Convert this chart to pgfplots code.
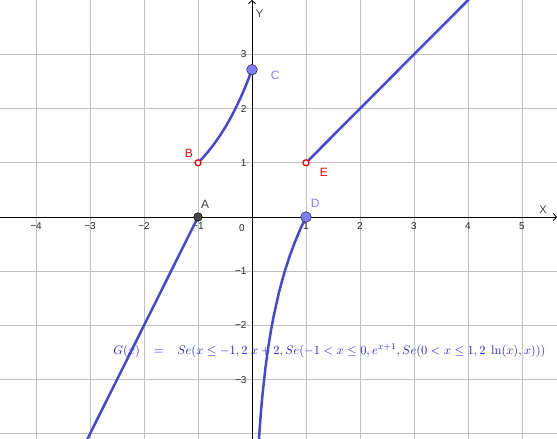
\documentclass[border=0pt]{standalone}
\usepackage{graphicx}
\usepackage{pgfplots}
\pgfplotsset{compat=1.18}
\usepackage{fontspec}
\newfontfamily\arial{Liberation Sans}
\usetikzlibrary{arrows.meta}
\definecolor{fblue}{RGB}{70,70,220}
\definecolor{tblue}{RGB}{35,35,225}
\definecolor{pblue}{RGB}{125,125,255}
\definecolor{agray}{RGB}{70,70,70}
\definecolor{gridgray}{RGB}{192,192,192}
\begin{document}
\begin{tikzpicture}
\begin{axis}[
  scale only axis, width=557pt, height=439pt,
  xmin=-4.667, xmax=5.648, ymin=-4.096, ymax=4.004,
  axis lines=middle,
  axis line style={line width=0.9pt, black, -{Straight Barb[length=3pt,width=7pt]}},
  xtick={-4,-3,-2,-1,1,2,3,4,5},
  xticklabels={−4,−3,−2,−1,1,2,3,4,5},
  ytick={-4,-3,-2,-1,1,2,3},
  yticklabels={,−3,−2,−1,1,2,3},
  major tick length=0pt,
  grid=major,
  major grid style={line width=0.8pt, color=gridgray},
  ticklabel style={font=\arial\fontsize{10}{12}\selectfont, text=black!85},
  xticklabel style={yshift=-2pt},
  yticklabel style={xshift=-2pt},
  clip=true,
]
\node[anchor=west, text=tblue, inner sep=0pt] at (axis cs:-2.57,-2.47)
  {\resizebox{432pt}{!}{$G(x) \;\;\;=\;\;\; Se(x \leq -1, 2\;x+2, Se(-1<x\leq 0, e^{x+1}, Se(0<x\leq 1, 2\;\ln(x), x)))$}};
\node[font=\arial\fontsize{10}{12}\selectfont, text=black!85] at (axis cs:-0.185,-0.2) {0};
\node[font=\arial\fontsize{11}{13}\selectfont, text=black!75] at (axis cs:5.39,0.13) {X};
\node[font=\arial\fontsize{11}{13}\selectfont, text=black!75] at (axis cs:0.14,3.76) {Y};
% curves
\addplot[fblue, line width=2.5pt] coordinates {(-3.05,-4.1) (-1,0)};
\addplot[fblue, line width=2.5pt] coordinates {
(-1,1) (-0.9,1.1052) (-0.8,1.2214) (-0.7,1.3499) (-0.6,1.4918) (-0.5,1.6487)
(-0.4,1.8221) (-0.3,2.0138) (-0.2,2.2255) (-0.1,2.4596) (0,2.7183)};
\addplot[fblue, line width=2.5pt] coordinates {
(0.1287,-4.1) (0.14,-3.9322) (0.16,-3.6652) (0.18,-3.4296) (0.2,-3.2189)
(0.25,-2.7726) (0.3,-2.4079) (0.35,-2.0996) (0.4,-1.8326) (0.5,-1.3863)
(0.6,-1.0217) (0.7,-0.7133) (0.8,-0.4463) (0.9,-0.2107) (1,0)};
\addplot[fblue, line width=2.5pt] coordinates {(1,1) (4.1,4.1)};
% points
\addplot[only marks, mark=*, mark size=4.3pt, mark options={fill=agray, draw=black, line width=0.5pt}] coordinates {(-1,0)};
\addplot[only marks, mark=*, mark size=5.3pt, mark options={fill=pblue, draw=black!80, line width=0.6pt}] coordinates {(0,2.7183) (1,0)};
\addplot[only marks, mark=*, mark size=3pt, mark options={fill=white, draw=red, line width=1.3pt}] coordinates {(-1,1) (1,1)};
% labels
\node[font=\arial\fontsize{12}{14}\selectfont, text=agray] at (axis cs:-0.87,0.24) {A};
\node[font=\arial\fontsize{12}{14}\selectfont, text=red] at (axis cs:-1.17,1.18) {B};
\node[font=\arial\fontsize{12}{14}\selectfont, text=pblue] at (axis cs:0.43,2.62) {C};
\node[font=\arial\fontsize{12}{14}\selectfont, text=pblue] at (axis cs:1.17,0.26) {D};
\node[font=\arial\fontsize{12}{14}\selectfont, text=red] at (axis cs:1.33,0.83) {E};
\path (rel axis cs:0,0) coordinate (sw) (rel axis cs:1,1) coordinate (ne);
\end{axis}
\pgfresetboundingbox
\useasboundingbox (sw) rectangle (ne);
\end{tikzpicture}
\end{document}
